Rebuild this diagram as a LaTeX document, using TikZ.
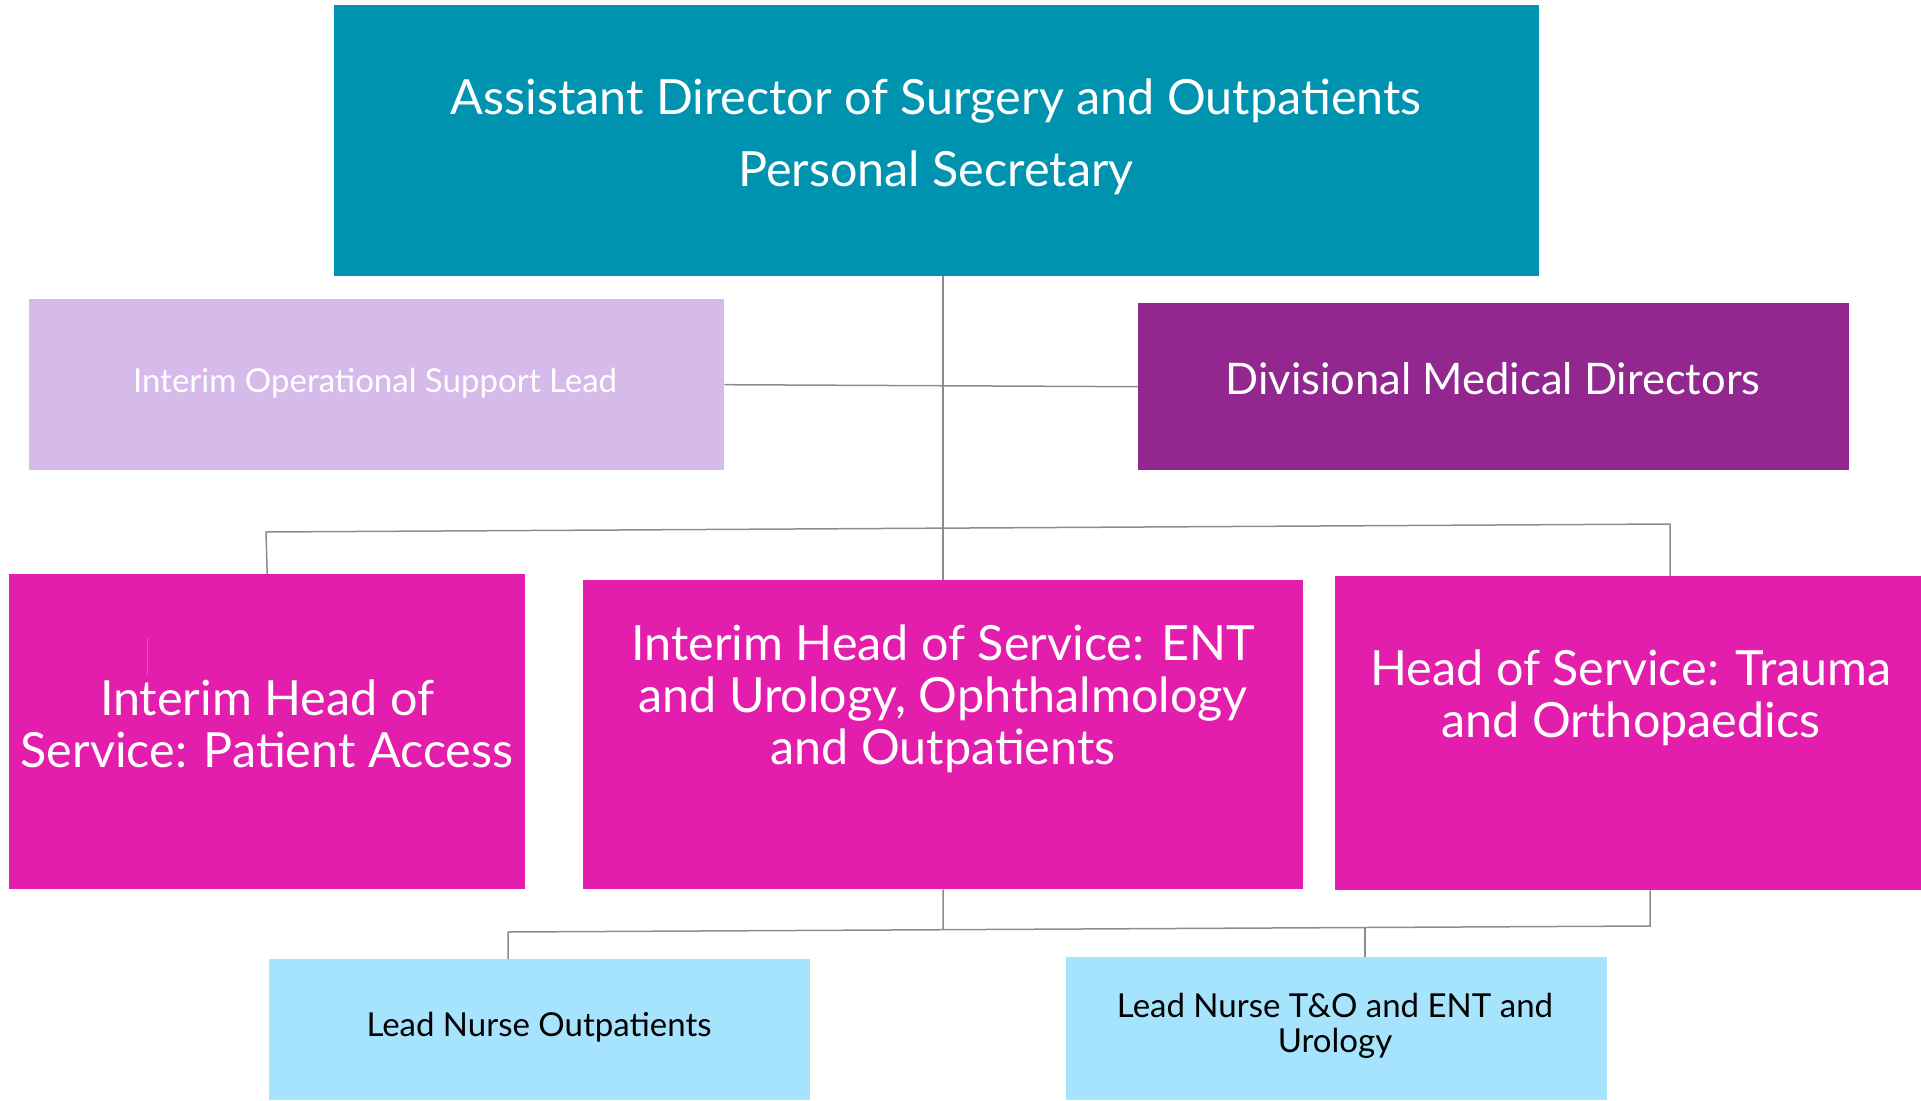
\documentclass[tikz,border=0pt]{standalone}
\usepackage{fontspec}
\setmainfont{Lato}
\usepackage{tikz}
\usetikzlibrary{positioning}

\definecolor{adteal}{RGB}{0,147,176}
\definecolor{oplilac}{RGB}{214,186,234}
\definecolor{dmpurple}{RGB}{146,39,143}
\definecolor{hsmagenta}{RGB}{227,30,173}
\definecolor{lnblue}{RGB}{166,228,253}
\definecolor{linkgrey}{RGB}{140,140,140}

\begin{document}
\begin{tikzpicture}[x=1pt, y=-1pt, every node/.style={inner sep=0pt},
    box/.style = {anchor=north west, draw=none},
    txt/.style = {text=white, align=center, anchor=base},
    big/.style = {font=\fontsize{48.5}{52}\selectfont},
    small/.style = {font=\fontsize{33}{35}\selectfont},
    link/.style = {draw=linkgrey, line width=1.5pt}]
    \useasboundingbox (0,0) rectangle (1921,1100);

    % boxes
    \node[box, fill=adteal, minimum width=1205pt, minimum height=271pt] (adir) at (334,5) {};
    \node[box, fill=oplilac, minimum width=695pt, minimum height=171pt] (ops) at (29,299) {};
    \node[box, fill=dmpurple, minimum width=711pt, minimum height=167pt] (dmd) at (1138,303) {};
    \node[box, fill=hsmagenta, minimum width=516pt, minimum height=315pt] (hpa) at (9,574) {};
    \node[box, fill=hsmagenta, minimum width=720pt, minimum height=309pt] (hent) at (583,580) {};
    \node[box, fill=hsmagenta, minimum width=586pt, minimum height=314pt] (hto) at (1335,576) {};
    \node[box, fill=lnblue, minimum width=541pt, minimum height=141pt] (lno) at (269,959) {};
    \node[box, fill=lnblue, minimum width=541pt, minimum height=143pt] (lnt) at (1066,957) {};

    % texts (base = last line)
    \node[txt, big] (adtitle) at (936,114) {Assistant Director of Surgery and Outpatients};
    \node[txt, big] (adsec) at (936,186) {Personal Secretary};
    \node[txt, small] (opstxt) at (375,392) {Interim Operational Support Lead};
    \node[txt, font=\fontsize{43.5}{46}\selectfont] (dmdtxt) at (1493,394) {Divisional Medical Directors};
    \node[txt, big] (hpatxt) at (267,767) {Interim Head of\\Service: Patient Access};
    \node[txt, big] (henttxt) at (943,764) {Interim Head of Service: ENT\\and Urology, Ophthalmology\\and Outpatients};
    \node[txt, big] (htotxt) at (1631,737) {Head of Service: Trauma\\and Orthopaedics};
    \node[txt, small, text=black] (lnotxt) at (539,1036) {Lead Nurse Outpatients};
    \node[txt, small, text=black] (lnttxt) at (1335,1052) {Lead Nurse T\&O and ENT and\\Urology};

    % connectors
    \coordinate (tl) at (266,532);
    \coordinate (tr) at (1670,524);
    \coordinate (bl) at (508,932);
    \coordinate (br) at (1650,926);
    \coordinate (bm) at (943,929);
    \coordinate (bn) at (1365,928);
    \draw[link] (adir.south -| hent.north) -- (hent.north);
    \draw[link] (ops.east) -- (dmd.west);
    \draw[link] (hpa.north) -- (tl) -- (tr) -- (tr |- hto.north);
    \draw[link] (hent.south) -- (bm);
    \draw[link] (hto.south -| br) -- (br) -- (bl) -- (bl |- lno.north);
    \draw[link] (bn) -- (bn |- lnt.north);
    \draw[draw=linkgrey, line width=1pt] (147,638) -- (147,675);
\end{tikzpicture}
\end{document}
